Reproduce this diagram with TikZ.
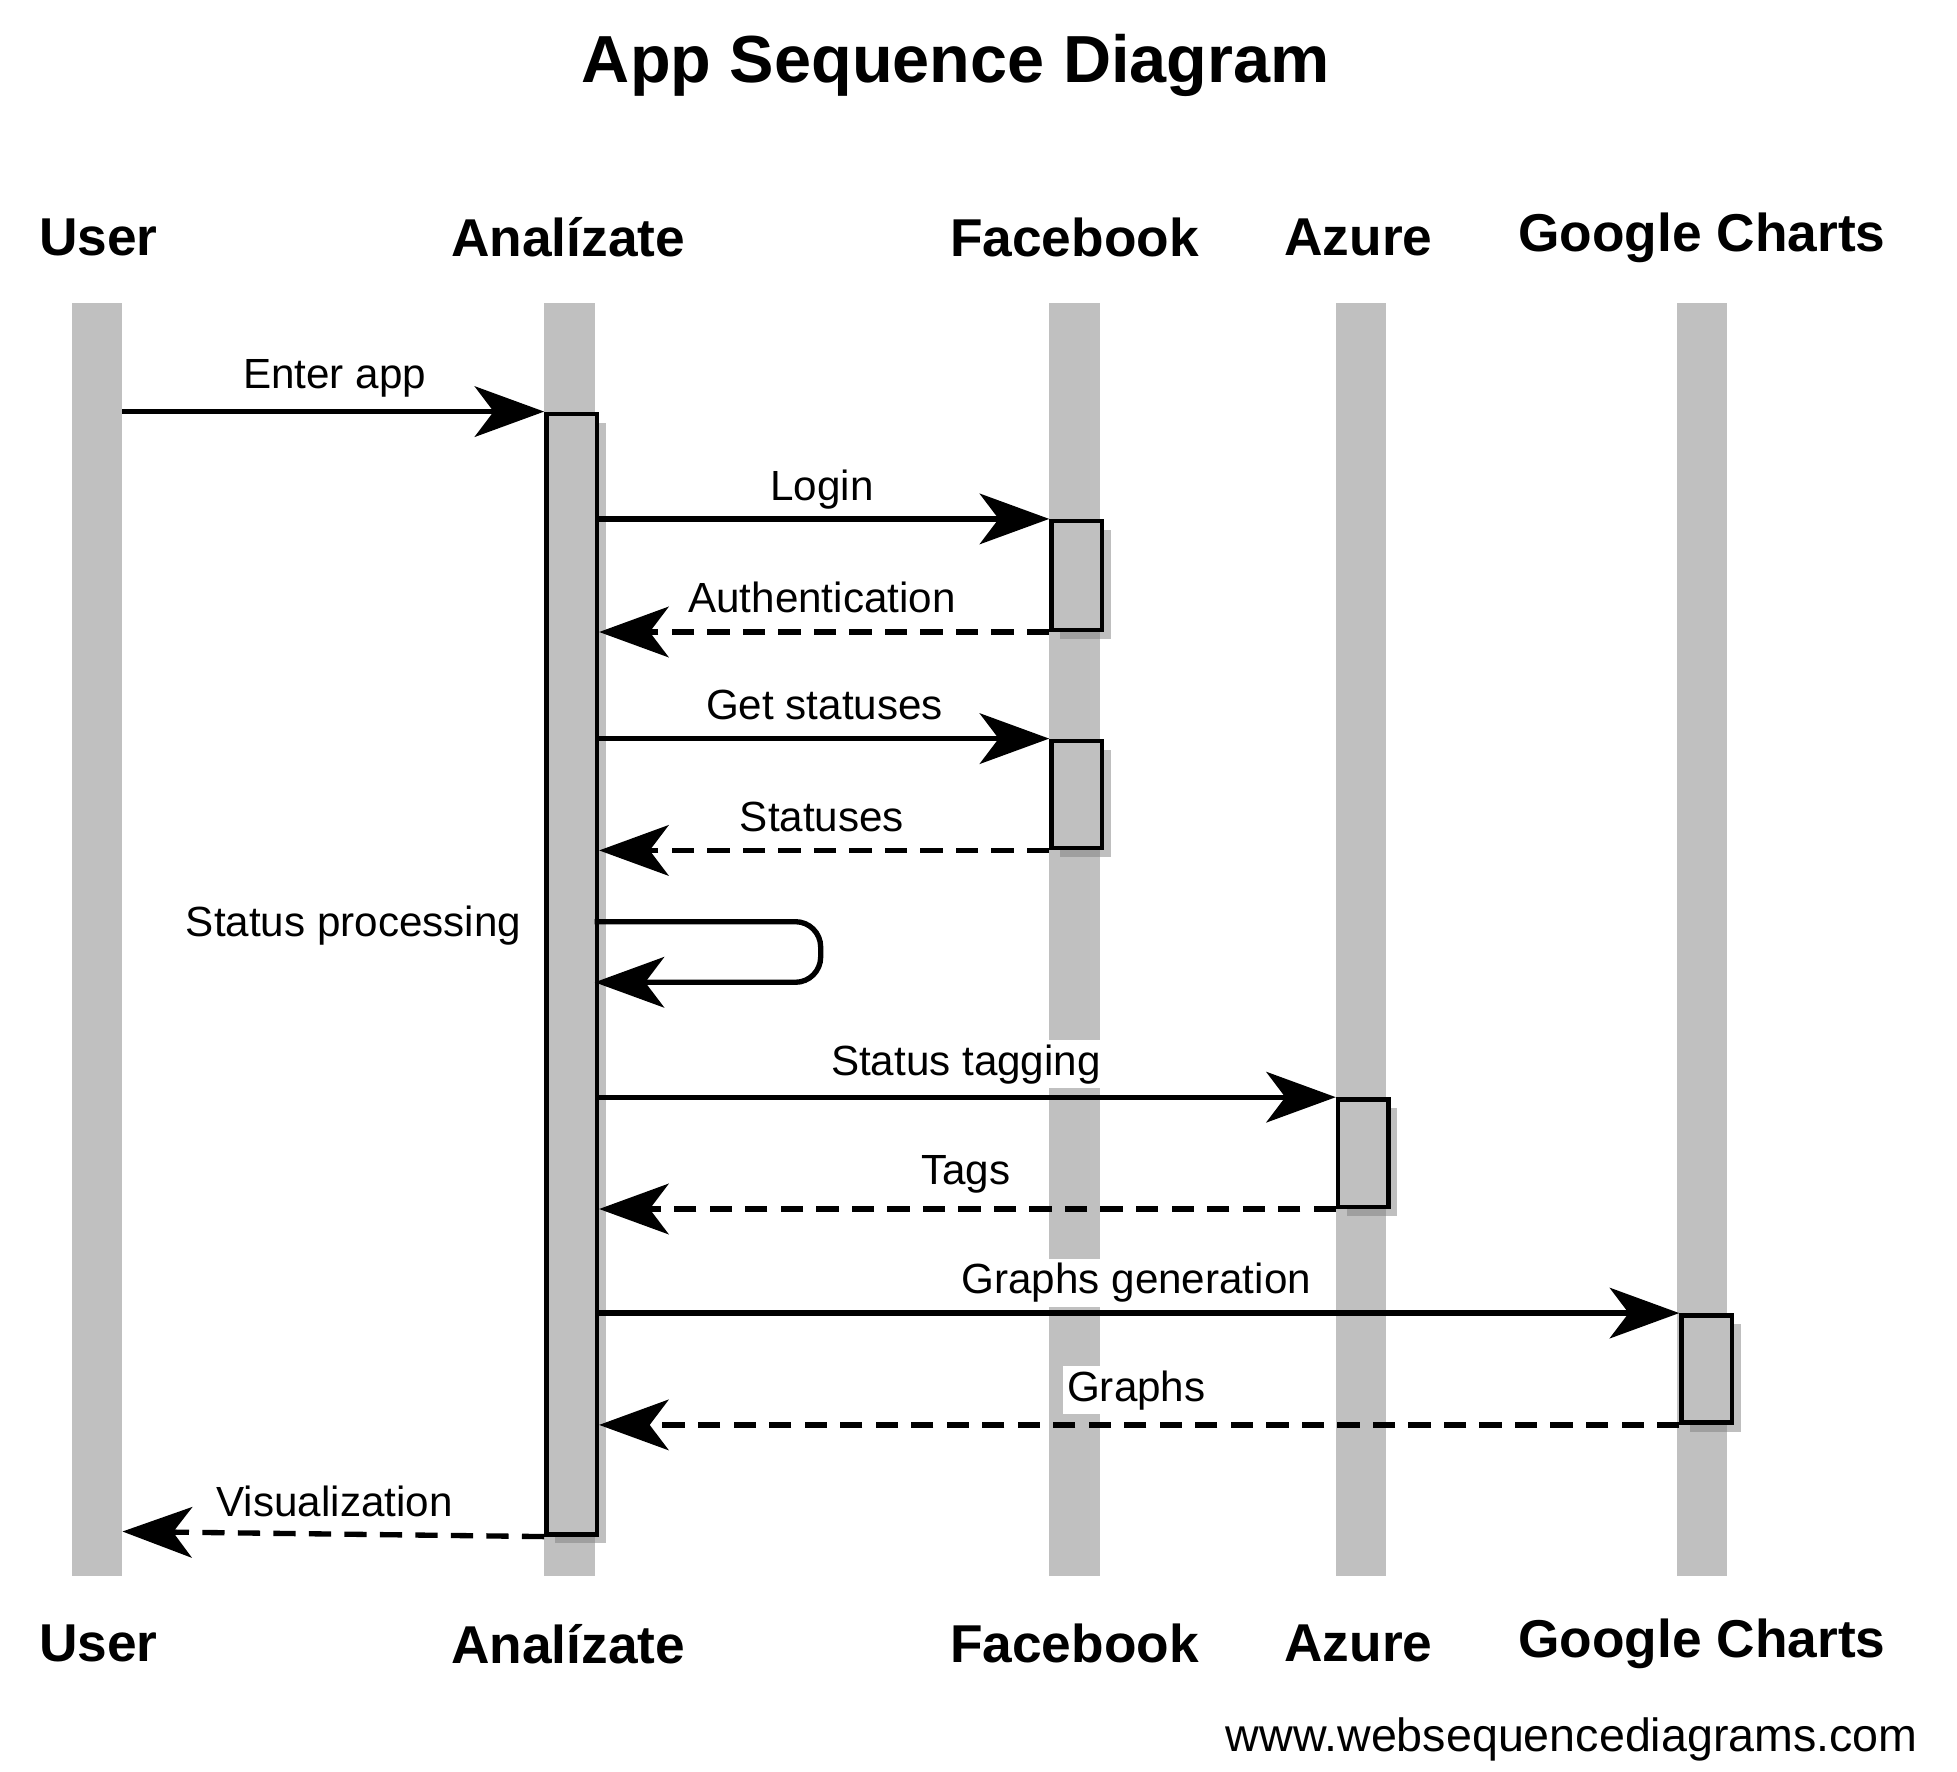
\documentclass[tikz,border=0pt]{standalone}
\usepackage{fontspec}
\setmainfont{Liberation Sans}
\usetikzlibrary{arrows.meta,shadows}
\definecolor{lg}{RGB}{192,192,192}
\begin{document}
\begin{tikzpicture}[x=0.01cm,y=-0.01cm,
  life/.style={fill=lg,draw=none},
  act/.style={fill=lg,draw=black,line width=1pt,drop shadow={shadow xshift=2pt,shadow yshift=-2pt,fill=black!50}},
  hdr/.style={font=\fontsize{12}{14}\selectfont\bfseries},
  lbl/.style={font=\fontsize{9.5}{11}\selectfont,fill=white,inner sep=1pt},
  msg/.style={line width=1.2pt,-{Stealth[length=0.55cm,width=0.4cm,inset=0.15cm]}},
  ret/.style={msg,dash pattern=on 5pt off 3pt}]
\useasboundingbox (0,0) rectangle (1550,1403);
\node[font=\fontsize{15}{18}\selectfont\bfseries] (title) at (757,52) {App Sequence Diagram};
% lifelines
\foreach \n/\x/\t in {u/77/User,a/451/Analízate,f/851/Facebook,z/1078/Azure,g/1348/Google Charts}{
  \fill[life] (\x-20,240) rectangle (\x+20,1248);
}
\foreach \n/\x/\t in {u/78/User,a/450/Analízate,f/851/Facebook,z/1076/Azure,g/1348/Google Charts}{
  \node[hdr] (\n top) at (\x,188) {\t};
  \node[hdr] (\n bot) at (\x,1302) {\t};
}
% labels first (white boxes cover lifelines)
\node[lbl] (l1) at (265,300) {Enter app};
\node[lbl] (l2) at (651,388) {Login};
\node[lbl] (l3) at (651,473) {Authentication};
\node[lbl] (l4) at (653,558) {Get statuses};
\node[lbl] (l5) at (651,647) {Statuses};
\node[lbl,anchor=east] (l6) at (417,733) {Status processing};
\node[lbl] (l7) at (765,843) {Status tagging};
\node[lbl] (l8) at (765,930) {Tags};
\node[lbl] (l9) at (900,1016) {Graphs generation};
\node[lbl] (l10) at (900,1101) {Graphs};
\node[lbl] (l11) at (265,1189) {Visualization};
% activations
\node[act,minimum width=0.4cm,minimum height=8.87cm,inner sep=0,anchor=north west] (aa) at (431,326) {};
\node[act,minimum width=0.4cm,minimum height=0.86cm,inner sep=0,anchor=north west] (f1) at (831,411) {};
\node[act,minimum width=0.4cm,minimum height=0.85cm,inner sep=0,anchor=north west] (f2) at (831,585) {};
\node[act,minimum width=0.4cm,minimum height=0.85cm,inner sep=0,anchor=north west] (z1) at (1058,869) {};
\node[act,minimum width=0.4cm,minimum height=0.85cm,inner sep=0,anchor=north west] (g1) at (1330,1040) {};
% messages
\coordinate (u1) at (97,326); \coordinate (u2) at (97,1213);
\draw[msg] (u1) -- (aa.north west);
\draw[msg] (aa.east |- f1.north west) -- (f1.north west);
\draw[ret] (f1.south west) -- (aa.east |- f1.south west);
\draw[msg] (aa.east |- f2.north west) -- (f2.north west);
\draw[ret] (f2.south west) -- (aa.east |- f2.south west);
\coordinate (s1) at (471,730); \coordinate (s2) at (650,730);
\coordinate (s3) at (650,778); \coordinate (s4) at (471,778);
\draw[msg,rounded corners=0.2cm] (s1) -- (s2) -- (s3) -- (s4);
\draw[msg] (aa.east |- z1.north west) -- (z1.north west);
\draw[ret] (z1.south west) -- (aa.east |- z1.south west);
\draw[msg] (aa.east |- g1.north west) -- (g1.north west);
\draw[ret] (g1.south west) -- (aa.east |- g1.south west);
\draw[ret] (aa.south west) -- (u2);
\node[font=\fontsize{10.5}{12}\selectfont] (www) at (1245,1378) {www.websequencediagrams.com};
\end{tikzpicture}
\end{document}
